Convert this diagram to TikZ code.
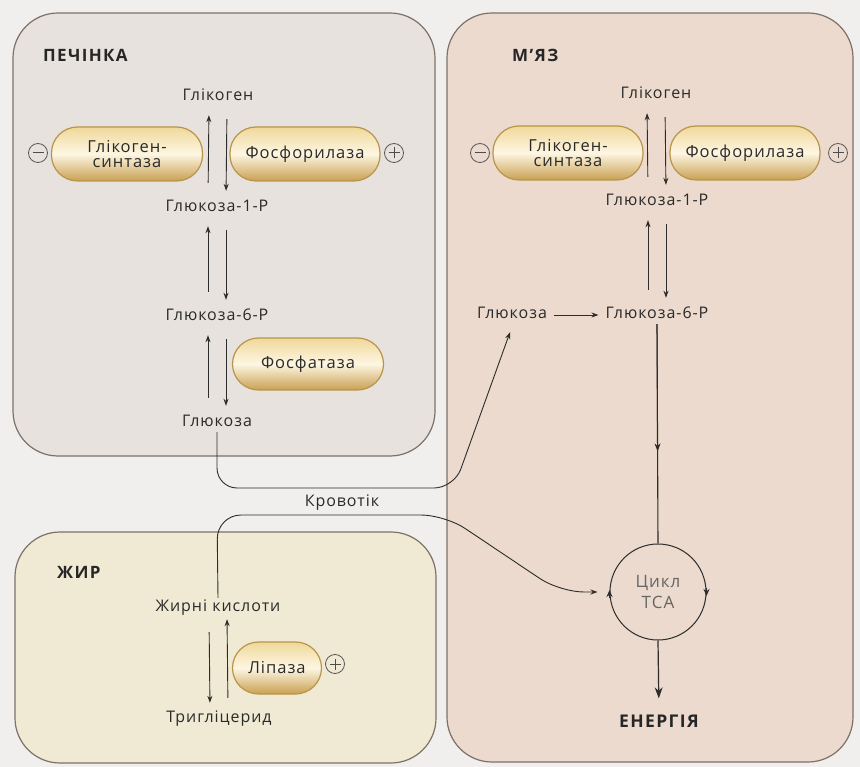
\documentclass[tikz,border=0pt]{standalone}
\usepackage{fontspec}
\setmainfont{Open Sans}
\newfontfamily\spaced[LetterSpace=6]{Open Sans}
\newfontfamily\spacedb[LetterSpace=8]{Open Sans Bold}
\usetikzlibrary{arrows.meta,calc}
\definecolor{bgc}{HTML}{F1EFED}
\definecolor{liverc}{HTML}{E7E2DD}
\definecolor{musclec}{HTML}{EBDACD}
\definecolor{fatc}{HTML}{F0EAD5}
\definecolor{boxline}{HTML}{7D7168}
\definecolor{linec}{HTML}{2C2C2C}
\definecolor{txtc}{HTML}{2A2A2A}
\definecolor{pilltop}{HTML}{F0D89A}
\definecolor{pillmid}{HTML}{FDF6E2}
\definecolor{pillbot}{HTML}{C9A052}
\definecolor{pillline}{HTML}{B8954A}
\tikzset{
  organ/.style={draw=boxline, line width=1.2pt, rounded corners=45pt},
  lbl/.style={text=txtc, font=\spaced\fontsize{16}{18}\selectfont, inner sep=2pt, text height=11pt, text depth=3pt},
  title/.style={text=black!85, font=\spacedb\fontsize{17}{19}\selectfont, anchor=west, inner sep=0pt},
  pill/.style={rounded corners=26pt, minimum height=54pt, top color=pilltop, bottom color=pillbot, middle color=pillmid,
    draw=pillline, line width=1.2pt, align=center, text=txtc, font=\spaced\fontsize{16.5}{18}\selectfont},
  sign/.style={circle, draw=black!65, line width=0.8pt, minimum size=19pt, inner sep=0pt},
  minus/.style={sign, path picture={\draw[black!70, line width=1pt] ([xshift=-5.5pt]path picture bounding box.center) -- ([xshift=5.5pt]path picture bounding box.center);}},
  plus/.style={sign, path picture={\draw[black!70, line width=1pt] ([xshift=-5.5pt]path picture bounding box.center) -- ([xshift=5.5pt]path picture bounding box.center) ([yshift=-5.5pt]path picture bounding box.center) -- ([yshift=5.5pt]path picture bounding box.center);}},
  conn/.style={draw=linec, line width=0.9pt},
  arr/.style={conn, -{Stealth[length=7pt,width=5pt]}},
  upar/.style={arr, shorten <=16pt, shorten >=9pt},
  downar/.style={arr, shorten <=13pt, shorten >=8pt},
}
\begin{document}
\begin{tikzpicture}[x=1pt,y=-1pt]
\fill[bgc] (0,0) rectangle (860,767);
\useasboundingbox (0,0) rectangle (860,767);
% organ boxes
\draw[organ, fill=liverc] (13,13) rectangle (435,456);
\draw[organ, fill=musclec] (447,13) rectangle (853,762);
\draw[organ, fill=fatc] (15,532) rectangle (436,763);
% titles
\node[title] (tliver) at (43,55) {ПЕЧІНКА};
\node[title] (tmuscle) at (512,55) {М’ЯЗ};
\node[title] (tfat) at (57,572) {ЖИР};
% liver
\node[lbl] (lgly) at (218,97) {Глікоген};
\node[lbl] (lg1) at (217,208) {Глюкоза-1-Р};
\node[lbl] (lg6) at (217,317) {Глюкоза-6-Р};
\node[lbl] (lglc) at (217,423) {Глюкоза};
\node[pill, minimum width=151pt] (lsyn) at (127,154) {Глікоген-\\[-3pt]синтаза};
\node[pill, minimum width=150pt] (lphos) at (305,154) {Фосфорилаза};
\node[pill, minimum width=151pt, minimum height=52pt] (lpase) at (308,364) {Фосфатаза};
\node[minus] (lminus) at (38,153) {};
\node[plus] (lplus) at (394,153) {};
\draw[upar] ([xshift=-9pt]lg1.north) -- ([xshift=-9pt]lgly.south);
\draw[downar] ([xshift=9pt]lgly.south) -- ([xshift=9pt]lg1.north);
\draw[upar] ([xshift=-9pt]lg6.north) -- ([xshift=-9pt]lg1.south);
\draw[downar] ([xshift=9pt]lg1.south) -- ([xshift=9pt]lg6.north);
\draw[upar] ([xshift=-9pt]lglc.north) -- ([xshift=-9pt]lg6.south);
\draw[downar] ([xshift=9pt]lg6.south) -- ([xshift=9pt]lglc.north);
% muscle
\node[lbl] (mgly) at (656,95) {Глікоген};
\node[lbl] (mg1) at (657,202) {Глюкоза-1-Р};
\node[lbl] (mg6) at (657,315) {Глюкоза-6-Р};
\node[lbl] (mglc) at (512,315) {Глюкоза};
\node[pill, minimum width=150pt] (msyn) at (568,153) {Глікоген-\\[-3pt]синтаза};
\node[pill, minimum width=150pt] (mphos) at (745,153) {Фосфорилаза};
\node[minus] (mminus) at (480,153) {};
\node[plus] (mplus) at (838,153) {};
\draw[upar] ([xshift=-9pt]mg1.north) -- ([xshift=-9pt]mgly.south);
\draw[downar] ([xshift=9pt]mgly.south) -- ([xshift=9pt]mg1.north);
\draw[upar] ([xshift=-9pt]mg6.north) -- ([xshift=-9pt]mg1.south);
\draw[downar] ([xshift=9pt]mg1.south) -- ([xshift=9pt]mg6.north);
\draw[arr, shorten <=5pt, shorten >=5pt] (mglc.east) -- (mg6.west);
\node[circle, draw=linec, line width=1pt, minimum size=96pt, inner sep=0pt, align=center, text=black!60,
  font=\spaced\fontsize{17}{21}\selectfont] (tca) at (658,592) {Цикл\\TCA};
\node[text=black!85, font=\spacedb\fontsize{17.5}{19}\selectfont, inner sep=2pt, text height=12pt, text depth=3pt] (energy) at (659,723) {ЕНЕРГІЯ};
\draw[conn, line width=1.1pt] (tca.north) -- (mg6.south);
\draw[arr, -{Stealth[length=8pt,width=6pt]}] (mg6.south) -- ($(mg6.south)!0.58!(tca.north)$);
\draw[conn, -{Stealth[length=7pt,width=6pt]}] ([yshift=-6pt]tca.west) -- ([yshift=2pt]tca.west);
\draw[conn, -{Stealth[length=7pt,width=6pt]}] ([yshift=4pt]tca.east) -- ([yshift=-4pt]tca.east);
\draw[conn, line width=1.2pt, -{Stealth[length=11pt,width=8pt]}, shorten >=15pt] (tca.south) -- (energy.north);
% fat
\node[lbl] (fzk) at (218,607) {Жирні кислоти};
\node[lbl] (ftg) at (219,718) {Тригліцерид};
\node[pill, minimum width=89pt, minimum height=52pt] (flip) at (277,668) {Ліпаза};
\node[plus] (fplus) at (335,664) {};
\draw[arr, shorten <=16pt, shorten >=6pt] ([xshift=-9pt]fzk.south) -- ([xshift=-9pt]ftg.north);
\draw[arr, shorten <=11pt, shorten >=3pt] ([xshift=9pt]ftg.north) -- ([xshift=9pt]fzk.south);
% bloodstream
\node[lbl] (blood) at (342,502) {Кровотік};
\draw[arr, rounded corners=20pt] (lglc.south) -- (217,488) -- (454,488) -- ([xshift=-2pt,yshift=-8pt]mglc.south);
\draw[arr, rounded corners=24pt] (fzk.north) -- (217,515) -- (445,515) -- (560,592) -- ([xshift=-12pt]tca.west);
\end{tikzpicture}
\end{document}
